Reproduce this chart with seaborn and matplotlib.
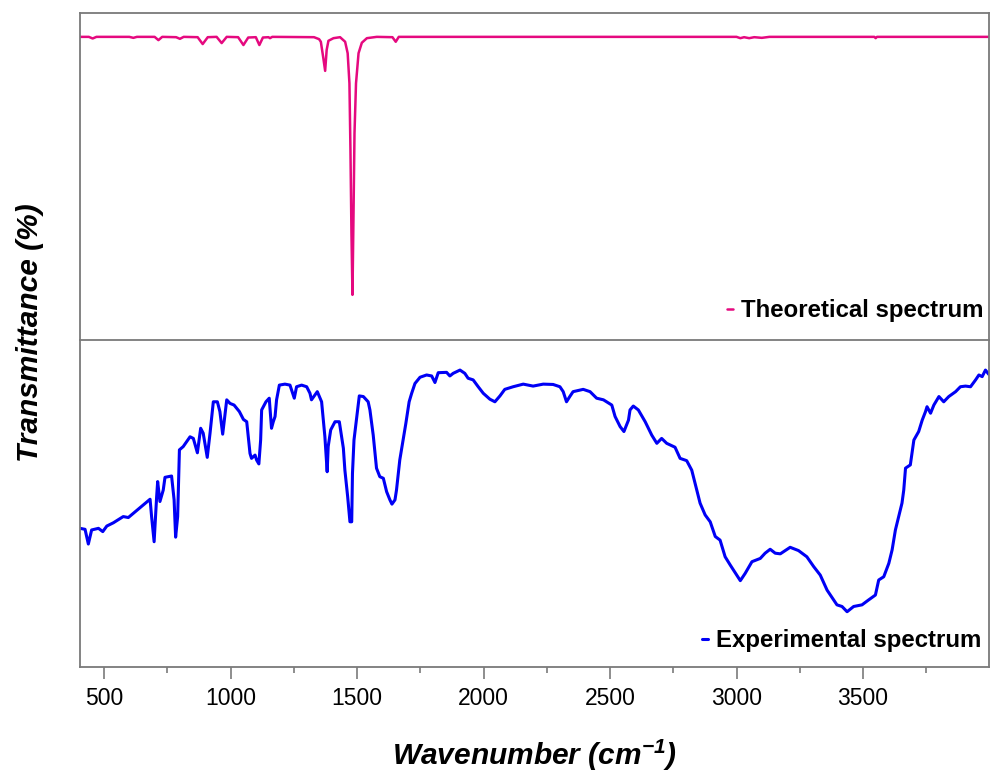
import numpy as np
import pandas as pd
import matplotlib
matplotlib.use("Agg")
import matplotlib.pyplot as plt
from matplotlib.ticker import MultipleLocator, NullLocator
import seaborn as sns

# Theoretical spectrum
theo_wn = [405, 440, 455, 470, 600, 616, 630, 700, 715, 730, 785, 800, 815,
           870, 890, 910, 945, 965, 985, 1030, 1051, 1070, 1100, 1114, 1128,
           1150, 1156, 1165, 1330, 1350, 1357, 1367, 1374, 1380, 1387, 1407,
           1433, 1453, 1463, 1470, 1474, 1478, 1482, 1486, 1490, 1496, 1506,
           1519, 1539, 1578, 1640, 1653, 1665, 3000, 3015, 3030, 3050, 3070,
           3100, 3130, 3545, 3550, 3555, 3998]
theo_t = [92.7, 92.7, 92.2, 92.7, 92.7, 92.4, 92.7, 92.7, 91.7, 92.7, 92.6,
          92.1, 92.7, 92.6, 90.5, 92.6, 92.7, 90.8, 92.7, 92.6, 90.2, 92.5,
          92.6, 90.2, 92.5, 92.6, 92.3, 92.7, 92.6, 92.0, 91.2, 86.1, 82.3,
          88.7, 91.5, 92.3, 92.6, 91.2, 87.7, 78.5, 58.1, 32.6, 13.8, 37.7,
          63.2, 78.5, 87.7, 90.9, 92.3, 92.7, 92.6, 91.2, 92.7, 92.7, 92.3,
          92.6, 92.3, 92.6, 92.4, 92.7, 92.7, 92.3, 92.7, 92.7]

# Experimental spectrum
exp_wn = [405, 425, 438, 451, 478, 495, 511, 537, 576, 596, 616, 655, 682,
          688, 698, 708, 712, 721, 734, 741, 767, 777, 783, 791, 798, 813,
          840, 853, 869, 882, 892, 908, 919, 932, 948, 958, 969, 985, 998,
          1014, 1035, 1051, 1064, 1077, 1083, 1097, 1103, 1112, 1119, 1123,
          1140, 1153, 1162, 1169, 1176, 1182, 1193, 1215, 1235, 1252, 1261,
          1281, 1301, 1314, 1320, 1334, 1343, 1360, 1373, 1382, 1386, 1396,
          1413, 1430, 1446, 1452, 1463, 1472, 1479, 1482, 1488, 1496, 1509,
          1525, 1544, 1551, 1564, 1577, 1590, 1604, 1617, 1630, 1638, 1650,
          1656, 1669, 1680, 1693, 1706, 1716, 1729, 1749, 1775, 1795, 1808,
          1821, 1854, 1867, 1880, 1907, 1926, 1939, 1959, 1979, 1999, 2025,
          2045, 2065, 2084, 2117, 2157, 2196, 2236, 2275, 2302, 2315, 2328,
          2341, 2354, 2394, 2421, 2447, 2474, 2507, 2520, 2540, 2555, 2573,
          2579, 2592, 2612, 2639, 2665, 2685, 2704, 2724, 2757, 2777, 2803,
          2823, 2836, 2856, 2876, 2896, 2916, 2935, 2955, 2975, 2995, 3015,
          3034, 3061, 3094, 3113, 3133, 3153, 3173, 3212, 3245, 3278, 3305,
          3331, 3358, 3397, 3417, 3437, 3463, 3496, 3522, 3549, 3562, 3582,
          3602, 3615, 3628, 3641, 3654, 3661, 3668, 3687, 3701, 3720, 3734,
          3747, 3753, 3767, 3780, 3800, 3819, 3839, 3866, 3885, 3905, 3925,
          3945, 3958, 3971, 3984, 3997]
exp_t = [42.4, 42.1, 37.6, 41.9, 42.4, 41.4, 43.1, 44.1, 46.0, 45.7, 47.0,
         49.5, 51.3, 46.0, 38.3, 52.1, 56.7, 50.6, 54.1, 58.0, 58.4, 51.1,
         39.7, 46.0, 66.4, 67.4, 70.4, 69.9, 65.5, 73.0, 71.5, 64.1, 71.5,
         81.1, 81.1, 78.1, 71.2, 81.7, 80.6, 80.1, 78.1, 75.7, 75.0, 65.3,
         63.8, 64.8, 63.3, 62.1, 69.4, 78.6, 81.1, 82.2, 73.0, 75.0, 76.6,
         81.7, 86.2, 86.5, 86.2, 82.2, 85.7, 86.2, 85.7, 83.7, 81.7, 83.2,
         84.2, 81.1, 70.4, 59.7, 67.4, 72.5, 75.0, 75.0, 66.9, 60.2, 52.1,
         44.4, 44.4, 59.2, 69.4, 74.5, 82.9, 82.7, 81.1, 78.6, 70.9, 60.8,
         58.2, 57.7, 53.6, 51.1, 49.8, 51.1, 54.1, 63.3, 68.4, 74.5, 81.1,
         83.7, 86.7, 88.6, 89.3, 89.0, 87.0, 90.0, 90.1, 89.0, 89.8, 90.8,
         89.8, 88.3, 87.8, 85.7, 83.7, 81.9, 81.1, 82.9, 84.9, 85.7, 86.5,
         85.9, 86.5, 86.4, 85.7, 84.2, 81.1, 82.7, 84.2, 84.9, 84.2, 82.2,
         81.7, 80.1, 76.6, 73.5, 72.0, 75.5, 78.6, 79.8, 78.6, 75.0, 70.9,
         68.4, 69.9, 68.4, 67.2, 63.8, 63.1, 60.2, 56.2, 50.1, 46.5, 44.4,
         39.9, 38.8, 33.7, 31.2, 28.8, 26.4, 28.6, 32.2, 33.2, 34.8, 36.0,
         34.8, 34.6, 36.6, 35.6, 33.7, 30.7, 28.1, 23.5, 19.0, 18.5, 16.9,
         18.5, 19.0, 20.5, 22.0, 26.6, 27.6, 31.7, 35.8, 41.9, 46.0, 50.1,
         54.1, 60.8, 61.8, 69.4, 72.0, 75.5, 78.1, 79.6, 77.6, 80.1, 82.7,
         81.1, 82.7, 84.2, 85.7, 85.9, 85.7, 87.8, 89.3, 88.8, 90.8, 89.5]

theo = pd.DataFrame({"wn": theo_wn, "t": theo_t})
expt = pd.DataFrame({"wn": exp_wn, "t": exp_t})

sns.set_style("white")
plt.rcParams["font.family"] = ["Liberation Sans", "DejaVu Sans"]
plt.rcParams["text.color"] = "black"
plt.rcParams["mathtext.fontset"] = "custom"
plt.rcParams["mathtext.rm"] = "Liberation Sans:bold:italic"
plt.rcParams["mathtext.it"] = "Liberation Sans:bold:italic"
plt.rcParams["mathtext.bf"] = "Liberation Sans:bold:italic"

fig = plt.figure(figsize=(9.9, 7.78), dpi=100)
ax_top = fig.add_axes([0.0808, 0.5630, 0.9182, 0.4203])
ax_bot = fig.add_axes([0.0808, 0.1427, 0.9182, 0.4203])

sns.lineplot(data=theo, x="wn", y="t", ax=ax_top, color="#E5097F",
             lw=1.8, sort=False, label="Theoretical spectrum")
sns.lineplot(data=expt, x="wn", y="t", ax=ax_bot, color="#0000F5",
             lw=2.2, sort=False, label="Experimental spectrum")

for ax in (ax_top, ax_bot):
    ax.set_xlim(405, 3998)
    ax.set_ylim(0, 100)
    ax.set_xlabel("")
    ax.set_ylabel("")
    ax.yaxis.set_major_locator(NullLocator())
    for sp in ax.spines.values():
        sp.set_color("#7a7a7a")
        sp.set_linewidth(1.3)

ax_top.xaxis.set_major_locator(NullLocator())
ax_top.spines["bottom"].set_visible(False)

ax_bot.xaxis.set_major_locator(MultipleLocator(500))
ax_bot.xaxis.set_minor_locator(MultipleLocator(250))
ax_bot.tick_params(axis="x", which="major", direction="out", length=8.6,
                   width=1.2, color="#7a7a7a", pad=6, labelsize=16.5,
                   labelcolor="black", bottom=True)
ax_bot.tick_params(axis="x", which="minor", direction="out", length=4.3,
                   width=1.2, color="#7a7a7a", bottom=True)

leg_kw = dict(loc="lower right", frameon=False, handlelength=0.25,
              handletextpad=0.35, borderpad=0, borderaxespad=0,
              labelcolor="black", prop={"weight": "bold", "size": 17.3})
ax_top.legend(bbox_to_anchor=(0.994, 0.055), **leg_kw)
ax_bot.legend(bbox_to_anchor=(0.992, 0.046), **leg_kw)

fig.text(0.030, 0.572, "Transmittance (%)", rotation=90, ha="center",
         va="center", fontsize=21.5, fontweight="bold", fontstyle="italic",
         color="black")
fig.text(0.540, 0.0167, r"Wavenumber (cm$^{-1}$)", ha="center",
         va="baseline", fontsize=21.5, fontweight="bold", fontstyle="italic",
         color="black")

fig.savefig("out.png", dpi=100)
